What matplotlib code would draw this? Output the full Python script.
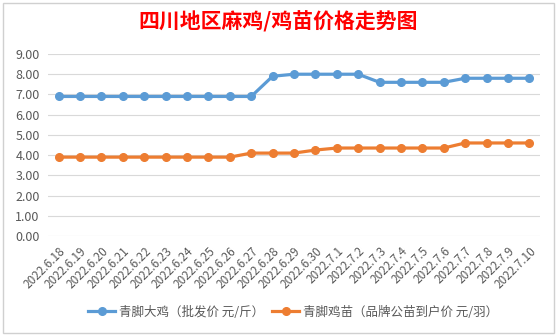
import matplotlib
matplotlib.use("Agg")
import matplotlib.pyplot as plt
from matplotlib.patches import Rectangle

plt.rcParams["font.family"] = ["Noto Sans CJK SC", "DejaVu Sans"]

dates = ["2022.6.18", "2022.6.19", "2022.6.20", "2022.6.21", "2022.6.22",
         "2022.6.23", "2022.6.24", "2022.6.25", "2022.6.26", "2022.6.27",
         "2022.6.28", "2022.6.29", "2022.6.30", "2022.7.1", "2022.7.2",
         "2022.7.3", "2022.7.4", "2022.7.5", "2022.7.6", "2022.7.7",
         "2022.7.8", "2022.7.9", "2022.7.10"]
chicken = [6.9, 6.9, 6.9, 6.9, 6.9, 6.9, 6.9, 6.9, 6.9, 6.9,
           7.9, 8.0, 8.0, 8.0, 8.0, 7.6, 7.6, 7.6, 7.6, 7.8, 7.8, 7.8, 7.8]
chick = [3.9, 3.9, 3.9, 3.9, 3.9, 3.9, 3.9, 3.9, 3.9, 4.1,
         4.1, 4.1, 4.25, 4.35, 4.35, 4.35, 4.35, 4.35, 4.35, 4.6, 4.6, 4.6, 4.6]
yticks = [0, 1, 2, 3, 4, 5, 6, 7, 8, 9]

BLUE = "#5B9BD5"
ORANGE = "#ED7D31"
GRAY = "#595959"

fig = plt.figure(figsize=(5.57, 3.36), dpi=100)
ax = fig.add_axes([48 / 557, 1 - 236 / 336, 492 / 557, 182 / 336])

x = list(range(len(dates)))
ax.plot(x, chicken, color=BLUE, lw=2.3, marker="o", ms=5.5,
        label="青脚大鸡（批发价 元/斤）")
ax.plot(x, chick, color=ORANGE, lw=2.3, marker="o", ms=5.5,
        label="青脚鸡苗（品牌公苗到户价 元/羽）")

ax.set_xlim(-0.5, len(dates) - 0.5)
ax.set_ylim(0, 9)
ax.set_yticks(yticks)
ax.set_yticklabels([f"{v:.2f}" for v in yticks], fontsize=9, color=GRAY)
ax.set_xticks(x)
ax.set_xticklabels(dates, rotation=45, ha="right", va="top",
                   rotation_mode="anchor", fontsize=8.5, color=GRAY)
ax.tick_params(length=0, pad=6)
ax.grid(axis="y", color="#D9D9D9", lw=0.8)
ax.set_axisbelow(True)
for s in ax.spines.values():
    s.set_visible(False)

fig.text(278 / 557, 1 - 22 / 336, "四川地区麻鸡/鸡苗价格走势图",
         ha="center", va="center", fontsize=15, fontweight="bold", color="red")

fig.legend(loc="center", bbox_to_anchor=(293 / 557, 1 - 312 / 336), ncol=2,
           frameon=False, fontsize=9, handlelength=2.2, columnspacing=0.6,
           handletextpad=0.3, labelcolor=GRAY)

fig.patches.append(Rectangle((3 / 557, 3 / 336), 551 / 557, 330 / 336,
                             transform=fig.transFigure, fill=False,
                             ec="#D0D0D0", lw=1))

fig.savefig("out.png", dpi=100)
